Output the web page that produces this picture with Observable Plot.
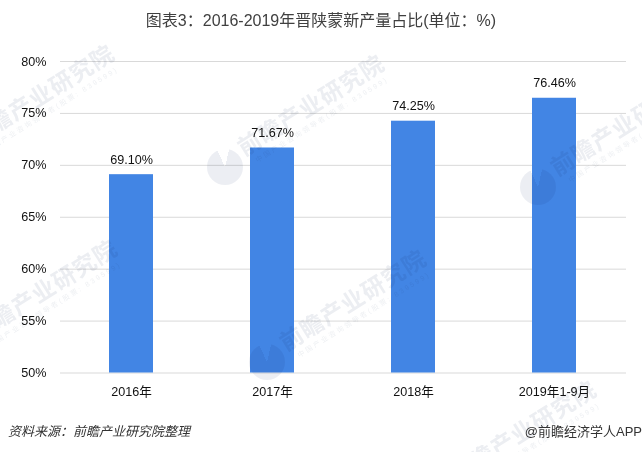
<!DOCTYPE html>
<html><head><meta charset="utf-8">
<script src="https://cdn.jsdelivr.net/npm/d3@7"></script>
<script src="https://cdn.jsdelivr.net/npm/@observablehq/plot@0.6"></script>
<style>
html,body{margin:0;padding:0;background:#fff;overflow:hidden}
#page{position:relative;width:642px;height:452px;overflow:hidden;background:#fff;font-family:"Liberation Sans","Noto Sans CJK SC",sans-serif}
#title{position:absolute;left:0;top:11px;width:642px;text-align:center;font-size:16px;line-height:20px;color:#404040}
#chart{position:absolute;left:0;top:40px}
#chart svg{display:block}
#src{position:absolute;left:8px;top:424px;font-size:13px;line-height:16px;font-style:italic;color:#333}
#brand{position:absolute;right:0;top:424px;font-size:13px;line-height:16px;color:#333;white-space:nowrap}
#marks{position:absolute;left:0;top:0;width:642px;height:452px;mix-blend-mode:multiply;pointer-events:none}
.wm{position:absolute;white-space:nowrap;transform:rotate(-32deg);transform-origin:0 13px;font-size:23px;font-weight:700;letter-spacing:1px;color:#eceef2;line-height:26px}
.wm small{display:block;font-size:7px;font-weight:400;letter-spacing:2.2px;line-height:9px;margin-left:8px;color:#eef0f3}
.logo{position:absolute;width:36px;height:36px;border-radius:50%;background:conic-gradient(from 335deg,#fff 0 38deg,#eceef3 38deg 360deg)}
</style></head><body>
<div id="page">
  <div id="title"></div>
  <div id="chart"></div>
  <div id="src"></div>
  <div id="brand"></div>
  <div id="marks"></div>
</div>
<script>
const titleText = "图表3：2016-2019年晋陕蒙新产量占比(单位：%)";
const sourceText = "资料来源：前瞻产业研究院整理";
const brandText = "@前瞻经济学人APP";
const watermarkText = "前瞻产业研究院";
const watermarkSub = "中国产业咨询领导者(股票: 839599)";
const categories = ["2016年","2017年","2018年","2019年1-9月"];
const shares = [69.10,71.67,74.25,76.46];
const shareLabels = ["69.10%","71.67%","74.25%","76.46%"];
const yTicks = [50,55,60,65,70,75,80];
const rows = categories.map((c,i)=>({c,v:shares[i],l:shareLabels[i]}));

document.getElementById("title").textContent = titleText;
document.getElementById("src").textContent = sourceText;
document.getElementById("brand").textContent = brandText;

const wmCentres = [[-45,157],[225,167],[538,187],[-42,352],[267,362],[437,493]];
const wmLayer = document.getElementById("marks");
wmCentres.forEach(([x,y])=>{
  const logo=document.createElement("div");logo.className="logo";
  logo.style.left=(x-18)+"px";logo.style.top=(y-18)+"px";wmLayer.appendChild(logo);
  const d=document.createElement("div");d.className="wm";
  d.style.left=(x+15)+"px";d.style.top=(y-30)+"px";
  d.innerHTML=watermarkText+"<small>"+watermarkSub+"</small>";wmLayer.appendChild(d);
});

const chart = Plot.plot({
  width:642, height:372,
  marginLeft:60, marginRight:16, marginTop:21, marginBottom:39.5,
  style:{background:"transparent",fontFamily:'"Liberation Sans","Noto Sans CJK SC",sans-serif',fontSize:"12.6px",color:"#111"},
  x:{domain:categories,label:null,paddingInner:0.686,paddingOuter:0.343,tickSize:0,tickPadding:14,fontSize:13},
  y:{domain:[50,80],label:null,ticks:yTicks,tickSize:0,tickPadding:14,tickFormat:d=>d+"%"},
  marks:[
    Plot.ruleY(yTicks,{stroke:"#d9d9d9",strokeWidth:1}),
    Plot.barY(rows,{x:"c",y1:50,y2:"v",fill:"#4285e4"}),
    Plot.text(rows,{x:"c",y:"v",text:"l",dy:-15,fill:"#111",fontSize:12.6})
  ]
});
document.getElementById("chart").appendChild(chart);
</script>
</body></html>
